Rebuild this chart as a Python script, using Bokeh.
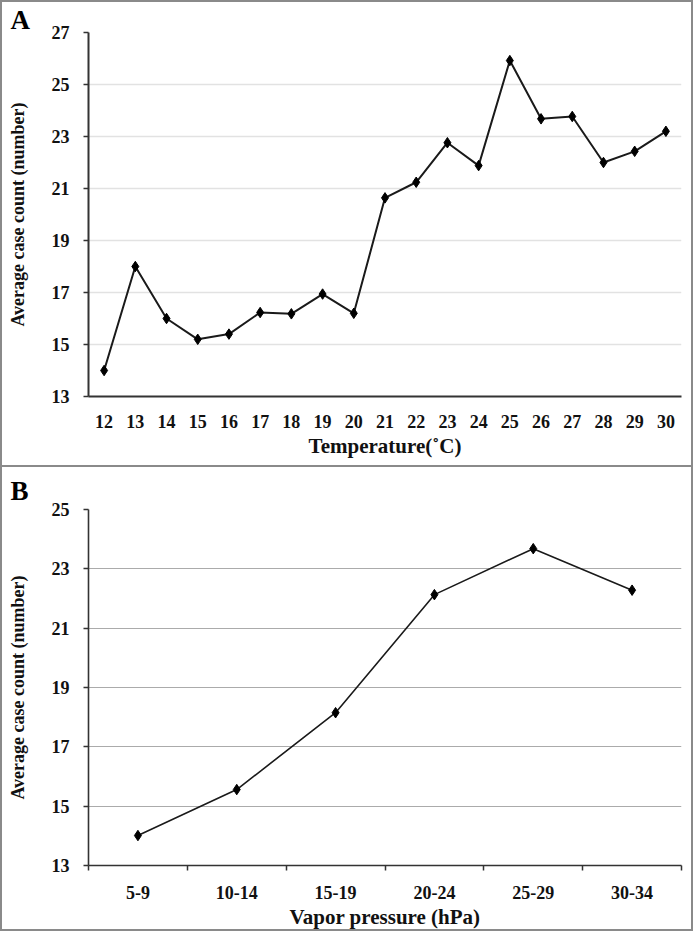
from bokeh.plotting import figure
from bokeh.layouts import column
from bokeh.models import Range1d, FixedTicker
from bokeh.embed import file_html
from bokeh.resources import INLINE

# ---- data ----
temperature = [12, 13, 14, 15, 16, 17, 18, 19, 20, 21, 22, 23, 24, 25, 26, 27, 28, 29, 30]
cases_by_temp = [14.0, 18.0, 16.0, 15.2, 15.4, 16.23, 16.18, 16.94, 16.2, 20.64,
                 21.24, 22.76, 21.88, 25.92, 23.68, 23.77, 22.0, 22.43, 23.2]
vapor_labels = ["5-9", "10-14", "15-19", "20-24", "25-29", "30-34"]
cases_by_vapor = [14.01, 15.56, 18.15, 22.13, 23.68, 22.28]
ya_ticks = [13, 15, 17, 19, 21, 23, 25, 27]
yb_ticks = [13, 15, 17, 19, 21, 23, 25]

FONT = "Liberation Serif"
BORDER_A = {"border": "2px solid #8a8a8a"}
BORDER_B = {"border-left": "2px solid #8a8a8a", "border-right": "2px solid #8a8a8a",
            "border-bottom": "2px solid #8a8a8a"}


def style_axes(p):
    for ax in (p.xaxis[0], p.yaxis[0]):
        ax.major_label_text_font = FONT
        ax.major_label_text_font_style = "bold"
        ax.major_label_text_font_size = "18px"
        ax.major_label_text_color = "#111111"
        ax.axis_label_text_font = FONT
        ax.axis_label_text_font_style = "bold"
        ax.axis_label_text_color = "#111111"
        ax.minor_tick_line_color = None
        ax.axis_line_color = "#333333"
    p.xaxis.axis_label_text_font_size = "21px"
    p.yaxis.axis_label_text_font_size = "18px"
    p.yaxis.major_tick_in = 0
    p.yaxis.major_tick_out = 5
    p.yaxis.major_label_standoff = 14
    p.yaxis.axis_label_standoff = 21
    p.yaxis.major_tick_line_color = "#333333"
    p.yaxis.major_tick_line_width = 1.5
    p.xaxis.major_tick_line_color = None
    p.xaxis.major_tick_out = 0
    p.xaxis.major_tick_in = 0
    p.xaxis.axis_label_standoff = 3
    p.title.text_font = FONT
    p.title.text_font_style = "bold"
    p.title.text_font_size = "27px"
    p.title.text_color = "#000000"
    p.title.align = "left"
    p.title.offset = -78
    p.outline_line_color = None
    p.xgrid.grid_line_color = None


# ---- Panel A ----
pa = figure(width=693, height=467, output_backend="svg", toolbar_location=None,
            x_range=Range1d(11.5, 30.5), y_range=Range1d(13, 27),
            min_border_left=86, min_border_right=13, min_border_top=30, min_border_bottom=73,
            title="A", styles=BORDER_A)
pa.line(temperature, cases_by_temp, line_color="#1a1a1a", line_width=2)
pa.scatter(temperature, cases_by_temp, marker="diamond", size=10.5,
           fill_color="#000000", line_color="#000000")
style_axes(pa)
pa.xaxis.ticker = FixedTicker(ticks=temperature)
pa.yaxis.ticker = FixedTicker(ticks=ya_ticks)
pa.xaxis.major_label_standoff = 18
pa.xaxis.axis_line_width = 2
pa.yaxis.axis_line_width = 2
pa.ygrid.grid_line_color = "#e2e2e2"
pa.ygrid.grid_line_width = 1.5
pa.xaxis.axis_label = "Temperature(˚C)"
pa.yaxis.axis_label = "Average case count (number)"
pa.title.standoff = -4

# ---- Panel B ----
xb = [i + 0.5 for i in range(len(vapor_labels))]
pb = figure(width=693, height=464, output_backend="svg", toolbar_location=None,
            x_range=Range1d(0, len(vapor_labels)), y_range=Range1d(13, 25),
            min_border_left=86, min_border_right=14, min_border_top=42, min_border_bottom=64,
            title="B", styles=BORDER_B)
pb.line(xb, cases_by_vapor, line_color="#1a1a1a", line_width=1.6)
pb.scatter(xb, cases_by_vapor, marker="diamond", size=10.5,
           fill_color="#000000", line_color="#000000")
style_axes(pb)
pb.xaxis.ticker = FixedTicker(ticks=xb, minor_ticks=list(range(len(vapor_labels) + 1)))
pb.xaxis.major_label_overrides = {x: lab for x, lab in zip(xb, vapor_labels)}
pb.xaxis.minor_tick_line_color = "#333333"
pb.xaxis.minor_tick_line_width = 1.5
pb.xaxis.minor_tick_out = 5
pb.xaxis.minor_tick_in = 0
pb.xaxis.major_label_standoff = 15
pb.yaxis.ticker = FixedTicker(ticks=yb_ticks)
pb.xaxis.axis_line_width = 1.6
pb.yaxis.axis_line_width = 1.6
pb.ygrid.grid_line_color = "#ababab"
pb.ygrid.grid_line_width = 1.2
pb.xaxis.axis_label = "Vapor pressure (hPa)"
pb.yaxis.axis_label = "Average case count (number)"
pb.title.standoff = 7

layout = column(pa, pb, spacing=0)

open("out.html", "w").write(file_html(layout, INLINE))
